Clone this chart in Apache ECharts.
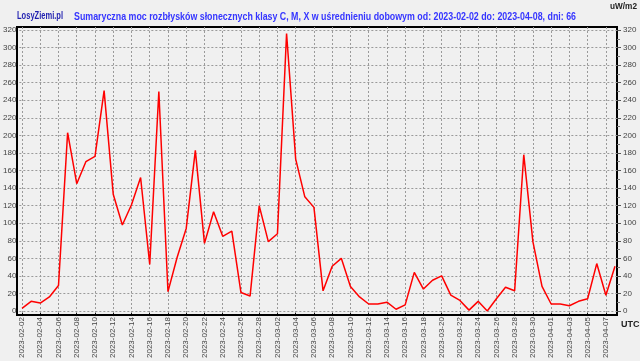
<!DOCTYPE html>
<html><head><meta charset="utf-8">
<script src="https://cdn.jsdelivr.net/npm/echarts@6/dist/echarts.min.js"></script>
<style>html,body{margin:0;padding:0;background:#f0f0f0;}#c{width:640px;height:361px;}</style>
</head><body><div id="c"></div>
<script>
const dates = ["2023-02-02","2023-02-03","2023-02-04","2023-02-05","2023-02-06","2023-02-07","2023-02-08","2023-02-09","2023-02-10","2023-02-11","2023-02-12","2023-02-13","2023-02-14","2023-02-15","2023-02-16","2023-02-17","2023-02-18","2023-02-19","2023-02-20","2023-02-21","2023-02-22","2023-02-23","2023-02-24","2023-02-25","2023-02-26","2023-02-27","2023-02-28","2023-03-01","2023-03-02","2023-03-03","2023-03-04","2023-03-05","2023-03-06","2023-03-07","2023-03-08","2023-03-09","2023-03-10","2023-03-11","2023-03-12","2023-03-13","2023-03-14","2023-03-15","2023-03-16","2023-03-17","2023-03-18","2023-03-19","2023-03-20","2023-03-21","2023-03-22","2023-03-23","2023-03-24","2023-03-25","2023-03-26","2023-03-27","2023-03-28","2023-03-29","2023-03-30","2023-03-31","2023-04-01","2023-04-02","2023-04-03","2023-04-04","2023-04-05","2023-04-06","2023-04-07","2023-04-08"];
const power = [3,11,9,16,29,203,145,170,176,251,133,98,121,152,53,250,22,61,94,183,77,113,85,91,21,17,120,79,88,316,173,130,118,23,51,60,28,16,8,8,10,2,7,44,25,35,40,18,12,1,11,0,14,27,23,178,79,28,8,8,6,11,14,54,18,51];
const yMin = 0, yMax = 320, yStep = 20;
const titleText = "Sumaryczna moc rozbłysków słonecznych klasy C, M, X w uśrednieniu dobowym od: 2023-02-02 do: 2023-04-08, dni: 66";
const siteText = "LosyZiemi.pl";
const unitText = "uW/m2";
const tzText = "UTC";

function fitScale(text, font, width) {
  const ctx = document.createElement('canvas').getContext('2d');
  ctx.font = font;
  return width / ctx.measureText(text).width;
}
const titleFont = 'bold 11px "Liberation Sans", Arial, sans-serif';
const siteFont = 'bold 10px "Liberation Sans", Arial, sans-serif';
const unitFont = 'bold 9px "Liberation Sans", Arial, sans-serif';

const chart = echarts.init(document.getElementById('c'), null, {renderer:'canvas'});
const lblFont = {fontFamily:'Liberation Sans, Arial, sans-serif', fontSize:8, color:'#444'};
const dash = {color:'#9a9a9a', type:[2,2], width:1};
chart.setOption({
  backgroundColor:'#f0f0f0',
  animation:false,
  graphic:[
    {type:'text', x:17, y:16, scaleX:fitScale(siteText, siteFont, 46), style:{text:siteText, font:siteFont, fill:'#1f1fb0', verticalAlign:'middle'}},
    {type:'text', x:74, y:17, scaleX:fitScale(titleText, titleFont, 502), style:{text:titleText, font:titleFont, fill:'#3535ff', verticalAlign:'middle'}},
    {type:'text', x:610, y:7, scaleX:fitScale(unitText, unitFont, 27), style:{text:unitText, font:unitFont, fill:'#222', verticalAlign:'middle'}},
    {type:'text', x:621, y:325, style:{text:tzText, font:unitFont, fill:'#222', verticalAlign:'middle'}}
  ],
  grid:[
    {left:17, right:23, top:27, bottom:46, show:true, borderColor:'#000', borderWidth:2, backgroundColor:'transparent'},
    {left:17, right:23, top:30, bottom:50},
    {left:22, right:25, top:27, bottom:46},
    {left:22, right:25, top:30, bottom:50}
  ],
  xAxis:[
    {gridIndex:0, type:'value', show:false},
    {gridIndex:1, type:'value', show:false},
    {gridIndex:2, type:'category', data:dates, boundaryGap:false,
     axisLine:{show:false},
     axisTick:{show:true, interval:1, length:3, lineStyle:{color:'#000'}},
     axisLabel:Object.assign({rotate:90, interval:1, margin:4}, lblFont),
     splitLine:{show:true, interval:1, lineStyle:dash}},
    {gridIndex:3, type:'category', data:dates, boundaryGap:false, show:false}
  ],
  yAxis:[
    {gridIndex:0, type:'value', show:false},
    {gridIndex:1, type:'value', min:yMin, max:yMax, interval:yStep, position:'left',
     axisLine:{show:false}, axisTick:{show:false},
     axisLabel:Object.assign({margin:3}, lblFont),
     splitLine:{show:true, lineStyle:dash}},
    {gridIndex:1, type:'value', min:yMin, max:yMax, interval:yStep, position:'right',
     axisLine:{show:false}, axisTick:{show:true, length:4, lineStyle:{color:'#555'}},
     minorTick:{show:true, splitNumber:2, length:3, lineStyle:{color:'#777'}},
     axisLabel:Object.assign({margin:6}, lblFont),
     splitLine:{show:false}},
    {gridIndex:2, type:'value', show:false, splitLine:{show:false}},
    {gridIndex:3, type:'value', min:yMin, max:yMax, show:false, splitLine:{show:false}}
  ],
  series:[{
    type:'line', xAxisIndex:3, yAxisIndex:4, data:power, symbol:'none',
    lineStyle:{color:'#ff0000', width:1.5}
  }]
});
</script></body></html>
